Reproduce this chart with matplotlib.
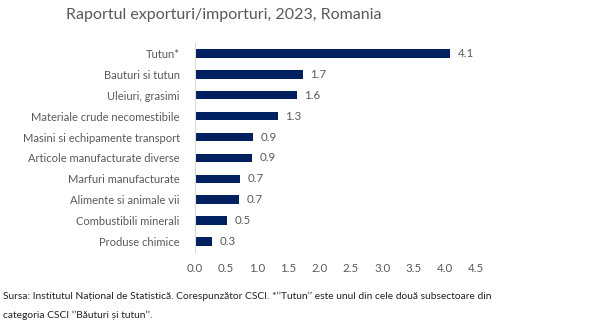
import matplotlib.pyplot as plt

categories = ["Tutun*", "Bauturi si tutun", "Uleiuri, grasimi", "Materiale crude necomestibile",
              "Masini si echipamente transport", "Articole manufacturate diverse",
              "Marfuri manufacturate", "Alimente si animale vii", "Combustibili minerali",
              "Produse chimice"]
values = [4.09, 1.73, 1.63, 1.33, 0.93, 0.92, 0.72, 0.71, 0.51, 0.27]
xticks = [0.0, 0.5, 1.0, 1.5, 2.0, 2.5, 3.0, 3.5, 4.0, 4.5]

plt.rcParams['font.family'] = ['Lato', 'DejaVu Sans']
grey = '#595959'

fig = plt.figure(figsize=(6, 3.31), dpi=100)
ax = fig.add_axes([0.325, 0.239, 0.468, 0.631])

ypos = list(range(len(categories)))
ax.barh(ypos, values, height=0.4, color='#002060')
for y, v in zip(ypos, values):
    ax.text(v + 0.12, y, f"{v:.1f}", va='center', ha='left', fontsize=8.3, color=grey)

ax.set_xlim(0, 4.5)
ax.set_ylim(9.5, -0.5)
ax.set_xticks(xticks)
ax.set_xticklabels([f"{t:.1f}" for t in xticks], fontsize=8.3, color=grey)
ax.set_yticks(ypos)
ax.set_yticklabels(categories, fontsize=8.0, color=grey)
ax.tick_params(length=0, pad=8)
ax.tick_params(axis='y', pad=11)
for s in ['top', 'right', 'bottom']:
    ax.spines[s].set_visible(False)
ax.spines['left'].set_color('#d9d9d9')

fig.text(0.373, 0.955, "Raportul exporturi/importuri, 2023, Romania", ha='center', va='center',
         fontsize=11.5, color=grey)
fig.text(0.005, 0.105, "Sursa: Institutul Național de Statistică. Corespunzător CSCI. *\u2019\u2019Tutun\u2019\u2019 este unul din cele două subsectoare din",
         ha='left', va='center', fontsize=7.4, color='#222222')
fig.text(0.005, 0.048, "categoria CSCI \u2019\u2019Băuturi și tutun\u2019\u2019.",
         ha='left', va='center', fontsize=7.4, color='#222222')

fig.savefig("out.png", dpi=100)
